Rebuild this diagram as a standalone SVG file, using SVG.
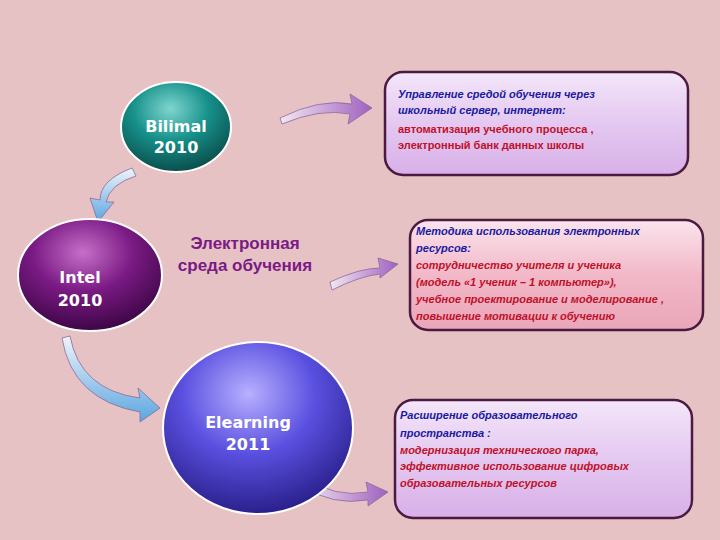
<svg xmlns="http://www.w3.org/2000/svg" width="720" height="540" viewBox="0 0 720 540">
<defs>
<radialGradient id="gT" cx="0.45" cy="0.3" r="0.7"><stop offset="0" stop-color="#7fd6cf"/><stop offset="0.5" stop-color="#16908a"/><stop offset="1" stop-color="#0a4e4c"/></radialGradient>
<radialGradient id="gP" cx="0.45" cy="0.3" r="0.7"><stop offset="0" stop-color="#c66fc8"/><stop offset="0.5" stop-color="#7a1a84"/><stop offset="1" stop-color="#3e0646"/></radialGradient>
<radialGradient id="gB" cx="0.45" cy="0.3" r="0.7"><stop offset="0" stop-color="#b8b0ff"/><stop offset="0.5" stop-color="#5a50e0"/><stop offset="1" stop-color="#2a208c"/></radialGradient>
<linearGradient id="gA" x1="0" y1="0" x2="1" y2="0"><stop offset="0" stop-color="#f2e8f2"/><stop offset="1" stop-color="#a060c0"/></linearGradient>
<linearGradient id="gA2" x1="0" y1="0" x2="0" y2="1"><stop offset="0" stop-color="#f0f4fa"/><stop offset="1" stop-color="#5aa6e0"/></linearGradient>
<linearGradient id="gBox1" x1="0" y1="0" x2="0" y2="1"><stop offset="0" stop-color="#f4e6fa"/><stop offset="0.5" stop-color="#e4c8f0"/><stop offset="1" stop-color="#d8b0e8"/></linearGradient>
<linearGradient id="gBox2" x1="0" y1="0" x2="0" y2="1"><stop offset="0" stop-color="#fbe4ec"/><stop offset="0.5" stop-color="#f2b8c8"/><stop offset="1" stop-color="#eaa6b8"/></linearGradient>
</defs>
<style>
.box{stroke:#4a1a40;stroke-width:2.5}
.h{font-family:"Liberation Sans",sans-serif;font-size:11px;font-style:italic;font-weight:bold;fill:#1a1aa0}
.r{font-family:"Liberation Sans",sans-serif;font-size:11px;font-weight:bold;fill:#c0102a}
.ri{font-family:"Liberation Sans",sans-serif;font-size:11px;font-style:italic;font-weight:bold;fill:#c0102a}
.ct{font-family:"DejaVu Sans",sans-serif;font-size:16px;font-weight:bold;fill:#fff;text-anchor:middle}
.arr{stroke:#8a6a9a;stroke-width:0.8}
</style>
<rect width="720" height="540" fill="#e6c2c4"/>
<g id="connectors">
<path class="arr" fill="url(#gA)" d="M280,118 Q320,98 352,104 L350,94 L372,108 L348,124 L350,114 Q320,108 282,124 Z"/>
<path class="arr" fill="url(#gA2)" d="M132,168 Q100,180 100,200 L90,198 L98,222 L114,202 L106,202 Q110,184 136,176 Z"/>
<path class="arr" fill="url(#gA)" d="M330,282 Q360,268 380,268 L378,258 L398,264 L380,278 L380,274 Q360,276 332,290 Z"/>
<path class="arr" fill="url(#gA2)" d="M70,336 Q80,390 140,398 L138,388 L160,408 L140,422 L140,412 Q72,400 62,338 Z"/>
<path class="arr" fill="url(#gA)" d="M305,478 Q335,498 368,492 L366,482 L388,492 L368,506 L368,500 Q332,506 302,486 Z"/>
</g>
<g id="bilimal"><ellipse cx="176" cy="127" rx="55" ry="45" fill="url(#gT)" stroke="#fff" stroke-width="2"/><text class="ct" x="176" y="132">Bilimal</text><text class="ct" x="176" y="153">2010</text></g>
<g id="intel"><ellipse cx="90" cy="275" rx="72" ry="56" fill="url(#gP)" stroke="#fff" stroke-width="2"/><text class="ct" x="80" y="283" font-size="17">Intel</text><text class="ct" x="80" y="306" font-size="17">2010</text></g>
<g id="elearning"><ellipse cx="258" cy="428" rx="95" ry="86" fill="url(#gB)" stroke="#fff" stroke-width="2"/><text class="ct" x="248" y="428">Elearning</text><text class="ct" x="248" y="450">2011</text></g>
<g id="center"><text x="245" y="249" font-family="Liberation Sans,sans-serif" font-size="17" font-weight="bold" fill="#7a1a84" text-anchor="middle">Электронная</text><text x="245" y="271" font-family="Liberation Sans,sans-serif" font-size="17" font-weight="bold" fill="#7a1a84" text-anchor="middle">среда обучения</text></g>
<g id="box1"><rect class="box" x="385" y="72" width="303" height="103" rx="18" fill="url(#gBox1)"/>
<text class="h" x="398" y="98">Управление средой обучения через</text>
<text class="h" x="398" y="114">школьный сервер, интернет:</text>
<text class="r" x="398" y="133" font-size="10.5">автоматизация учебного процесса ,</text>
<text class="r" x="398" y="149" font-size="10.5">электронный банк данных школы</text></g>
<g id="box2"><rect class="box" x="410" y="220" width="293" height="110" rx="18" fill="url(#gBox2)"/>
<text class="h" x="416" y="235">Методика использования  электронных</text>
<text class="h" x="416" y="252">ресурсов:</text>
<text class="ri" x="416" y="269">сотрудничество учителя и ученика</text>
<text class="ri" x="416" y="286">(модель «1 ученик – 1 компьютер»),</text>
<text class="ri" x="416" y="303">учебное проектирование и моделирование ,</text>
<text class="ri" x="416" y="320">повышение мотивации к обучению</text></g>
<g id="box3"><rect class="box" x="395" y="400" width="297" height="118" rx="18" fill="url(#gBox1)"/>
<text class="h" x="400" y="419">Расширение образовательного</text>
<text class="h" x="400" y="437">пространства :</text>
<text class="ri" x="400" y="454">модернизация технического парка,</text>
<text class="ri" x="400" y="470">эффективное использование цифровых</text>
<text class="ri" x="400" y="487">образовательных ресурсов</text></g>
</svg>
